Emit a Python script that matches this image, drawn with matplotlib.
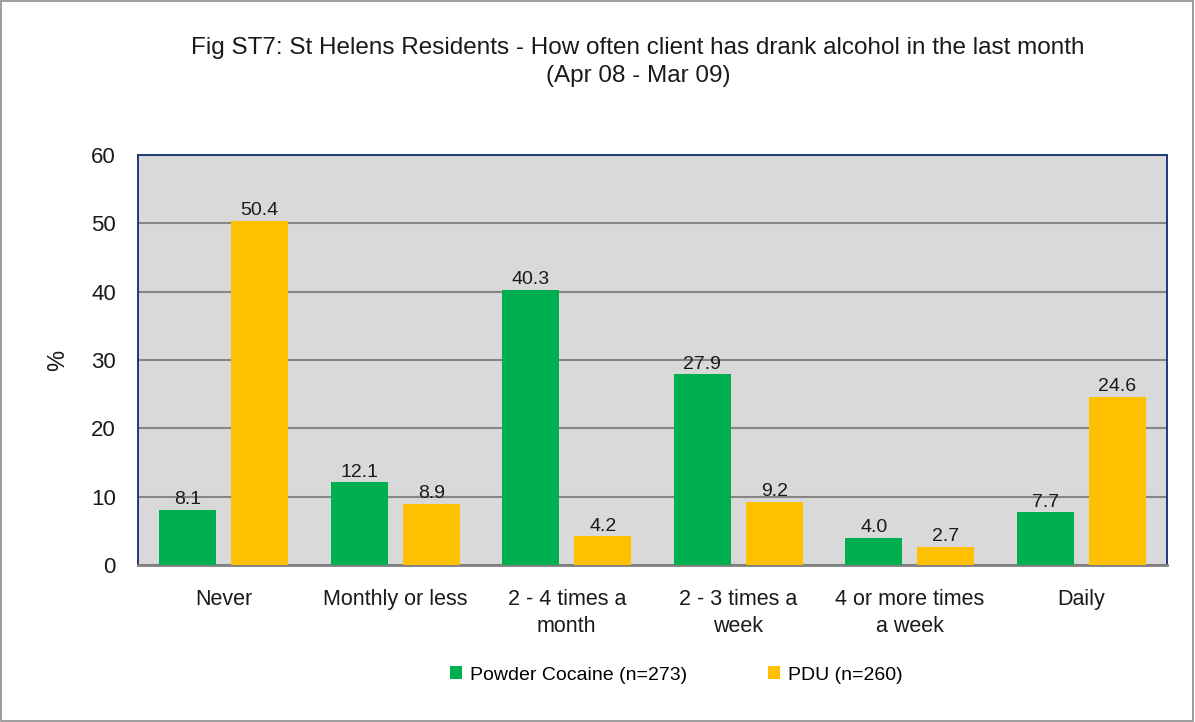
import matplotlib
matplotlib.use("Agg")
import matplotlib.pyplot as plt
import numpy as np
from matplotlib.patches import Rectangle

categories = ["Never", "Monthly or less", "2 - 4 times a\nmonth", "2 - 3 times a\nweek", "4 or more times\na week", "Daily"]
cocaine = [8.1, 12.1, 40.3, 27.9, 4.0, 7.7]
pdu = [50.4, 8.9, 4.2, 9.2, 2.7, 24.6]
series_labels = ["Powder Cocaine (n=273)", "PDU (n=260)"]
title = "Fig ST7: St Helens Residents - How often client has drank alcohol in the last month\n(Apr 08 - Mar 09)"

plt.rcParams['font.family'] = ['Liberation Sans', 'DejaVu Sans']

fig = plt.figure(figsize=(11.95, 7.22), dpi=100)
fig.patches.append(Rectangle((0.001, 0.002), 0.997, 0.996, transform=fig.transFigure,
                             fill=False, edgecolor='#8c8c8c', linewidth=1.2))
ax = fig.add_axes([138/1195, 1-565/722, (1167-138)/1195, (565-155)/722])
ax.set_facecolor('#d9d9d9')

x = np.arange(len(categories))
w = 0.33
off = 0.21
b1 = ax.bar(x - off, cocaine, w, color='#00b050', label=series_labels[0], zorder=3)
b2 = ax.bar(x + off, pdu, w, color='#ffc000', label=series_labels[1], zorder=3)
for bars, vals in ((b1, cocaine), (b2, pdu)):
    for rect, v in zip(bars, vals):
        ax.text(rect.get_x() + rect.get_width()/2, v + 0.25, f"{v:.1f}", ha='center', va='bottom',
                fontsize=14, color='#1a1a1a', zorder=4)

ax.set_xlim(-0.5, len(categories) - 0.5)
ax.set_ylim(0, 60)
ax.set_yticks(range(0, 61, 10))
ax.yaxis.grid(True, color='#868686', linewidth=1.5, zorder=1)
ax.set_axisbelow(True)
ax.set_xticks(x)
ax.set_xticklabels(categories, fontsize=15.5, color='#1a1a1a', linespacing=1.4)
ax.tick_params(axis='both', length=0)
ax.tick_params(axis='x', pad=17)
ax.tick_params(axis='y', pad=16, labelsize=16, labelcolor='#1a1a1a')
for s in ('top', 'right', 'left'):
    ax.spines[s].set_color('#1f3a7a')
    ax.spines[s].set_linewidth(1.4)
ax.spines['bottom'].set_color('#808080')
ax.spines['bottom'].set_linewidth(2)
ax.set_ylabel('%', fontsize=17, labelpad=16, color='#1a1a1a')

fig.text(0.534, 1-62/722, title, ha='center', va='center', fontsize=17.5, color='#1a1a1a', linespacing=1.3)

fig.legend(handles=[b1, b2], labels=series_labels, loc='center', bbox_to_anchor=(0.566, 1-675/722),
           ncol=2, frameon=False, fontsize=14, handlelength=0.6, handleheight=0.6,
           columnspacing=4.2, handletextpad=0.4)

fig.savefig('out.png', dpi=100)
